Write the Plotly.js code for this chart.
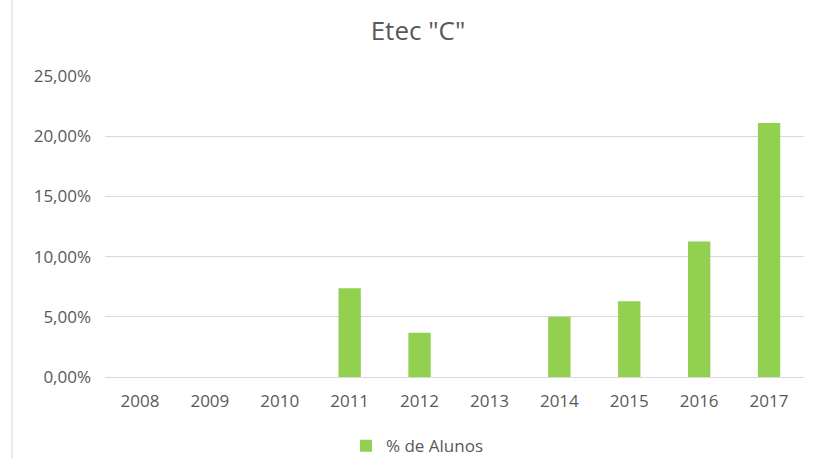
<!DOCTYPE html>
<html>
<head>
<meta charset="utf-8">
<script src="https://cdn.plot.ly/plotly-3.0.1.min.js"></script>
<style>html,body{margin:0;padding:0;background:#fff;}#chart{width:814px;height:459px;}</style>
</head>
<body>
<div id="chart"></div>
<script>
const years = ['2008','2009','2010','2011','2012','2013','2014','2015','2016','2017'];
const pctAlunos = [0, 0, 0, 0.0738, 0.0367, 0, 0.0500, 0.0630, 0.1126, 0.2110];
const seriesName = '% de Alunos';
const titleText = 'Etec "C"';

const trace = {
  type: 'bar',
  x: years,
  y: pctAlunos,
  name: seriesName,
  marker: {color: '#92D050'},
  hoverinfo: 'x+y'
};

const layout = {
  width: 814, height: 459,
  margin: {l: 105, r: 10, t: 75.5, b: 82},
  paper_bgcolor: '#fff', plot_bgcolor: '#fff',
  separators: ',.',
  bargap: 0.68,
  title: {text: titleText, x: 0.5135, xanchor: 'center', y: 0.932, yanchor: 'middle',
          font: {family: 'Open Sans, sans-serif', size: 26, color: '#595959'}},
  font: {family: 'Open Sans, sans-serif', size: 17, color: '#595959'},
  xaxis: {type: 'category', showgrid: false, showline: false, ticks: '', zeroline: false,
          ticklabelstandoff: 12, tickfont: {size: 17, color: '#595959'}},
  yaxis: {range: [0, 0.25], dtick: 0.05, tickformat: '.2%', showgrid: true, gridcolor: '#d9d9d9',
          gridwidth: 1, zeroline: true, zerolinecolor: '#d9d9d9', ticks: '', ticklen: 0,
          ticklabelstandoff: 13, tickfont: {size: 17, color: '#595959'}},
  showlegend: true,
  legend: {orientation: 'h', xref: 'container', yref: 'container', x: 0.425, xanchor: 'left',
           y: 0.028, yanchor: 'middle', font: {size: 17, color: '#595959'}, itemwidth: 30},
  shapes: [{type: 'line', xref: 'paper', yref: 'paper', x0: -0.133, x1: -0.133, y0: -0.28, y1: 1.26,
            line: {color: '#d9d9d9', width: 1}}]
};

Plotly.newPlot('chart', [trace], layout, {displayModeBar: false, staticPlot: true});
</script>
</body>
</html>
